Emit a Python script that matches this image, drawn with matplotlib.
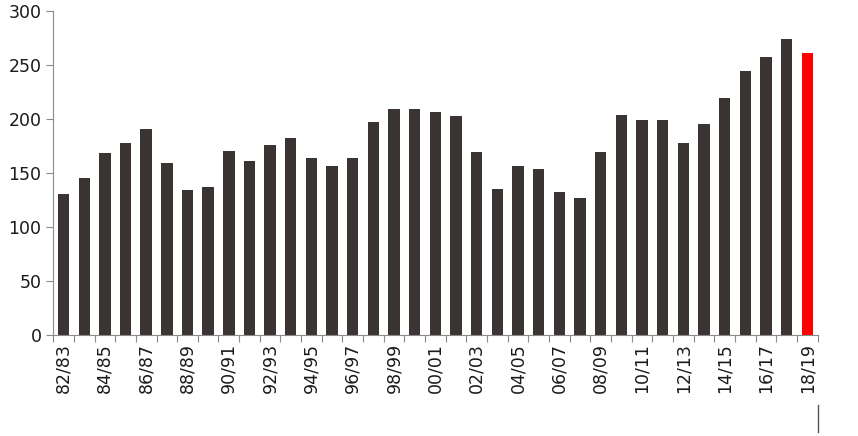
import matplotlib.pyplot as plt
import numpy as np

# seasons 82/83 .. 18/19
seasons = ["%02d/%02d" % (y % 100, (y + 1) % 100) for y in range(1982, 2019)]
values = [130, 145, 168, 178, 191, 159, 134, 137, 170, 161,
          176, 182, 164, 156, 164, 197, 209, 209, 206, 203,
          169, 135, 156, 154, 132, 127, 169, 204, 199, 199,
          178, 195, 219, 244, 257, 274, 261]

plt.rcParams['font.family'] = ['DejaVu Sans']

fig = plt.figure(figsize=(8.58, 4.36), dpi=100, facecolor='white')
ax = fig.add_axes([0.062, 0.232, 0.891, 0.743])

x = np.arange(len(values))
colors = ['#3a3532'] * (len(values) - 1) + ['#ff0000']
ax.bar(x, values, width=0.55, color=colors, zorder=2)

ax.set_xlim(-0.5, len(values) - 0.5)
ax.set_ylim(0, 300)
ax.set_yticks(range(0, 301, 50))

# ticks between categories, labels every other season
ax.set_xticks(np.arange(-0.5, len(values), 1.0))
ax.set_xticklabels([])
ax.set_xticks(x[::2], minor=True)
ax.set_xticklabels(seasons[::2], minor=True, rotation=90, fontsize=12.5,
                   color='#1a1a1a')
ax.tick_params(axis='x', which='minor', length=0, pad=6)
ax.tick_params(axis='x', which='major', length=5, color='#8a8a8a', direction='out')
ax.tick_params(axis='y', length=5, color='#8a8a8a', labelsize=12.5, labelcolor='#1a1a1a')

for s in ['top', 'right']:
    ax.spines[s].set_visible(False)
for s in ['left', 'bottom']:
    ax.spines[s].set_color('#8a8a8a')

# small stray line under the last label
fig.add_artist(plt.Line2D([818 / 858, 818 / 858], [1 - 405 / 436, 1 - 432 / 436],
                          color='#555555', lw=1))

fig.savefig('out.png', dpi=100)
